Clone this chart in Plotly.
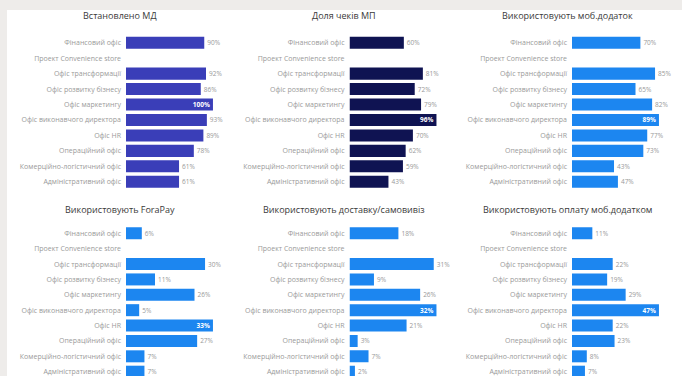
import plotly.graph_objects as go

W, H = 682, 376

categories = [
    "Фінансовий офіс",
    "Проект Convenience store",
    "Офіс трансформації",
    "Офіс розвитку бізнесу",
    "Офіс маркетингу",
    "Офіс виконавчого директора",
    "Офіс HR",
    "Операційний офіс",
    "Комерційно-логістичний офіс",
    "Адміністративний офіс",
]

titles = [
    "Встановлено МД",
    "Доля чеків МП",
    "Використовують моб.додаток",
    "Використовують ForaPay",
    "Використовують доставку/самовивіз",
    "Використовують оплату моб.додатком",
]

installed_md = [90, None, 92, 86, 100, 93, 89, 78, 61, 61]
mp_check_share = [60, None, 81, 72, 79, 96, 70, 62, 59, 43]
mob_app_users = [70, None, 85, 65, 82, 89, 77, 73, 43, 47]
forapay_users = [6, None, 30, 11, 26, 5, 33, 27, 7, 7]
delivery_users = [18, None, 31, 9, 26, 32, 21, 3, 7, 2]
mob_pay_users = [11, None, 22, 19, 29, 47, 22, 23, 8, 7]

series = [installed_md, mp_check_share, mob_app_users,
          forapay_users, delivery_users, mob_pay_users]
colors = ["#3a3eb8", "#0f1352", "#1c86f0", "#1c86f0", "#1c86f0", "#1c86f0"]

col_start_px = [126, 349.5, 572]
dom_w_px = 100
row_dom = [(0.496, 0.907), (0.0, 0.400)]
row_ranges = [[9.5, -0.5], [9.28, -0.5]]
title_y = [1 - 16 / H, 1 - 209 / H]
title_x_px = [120, 344, 567]

fig = go.Figure()
font_fam = "Open Sans"

for i, vals in enumerate(series):
    r, c = divmod(i, 3)
    ax = "" if i == 0 else str(i + 1)
    vmax = max(v for v in vals if v is not None)
    positions = ["inside" if v == vmax else "outside" for v in vals]
    fig.add_trace(go.Bar(
        x=vals, y=categories, orientation="h",
        marker=dict(color=colors[i], line=dict(width=0)),
        width=0.78,
        text=[f"{v}%" if v is not None else "" for v in vals],
        textposition=positions,
        insidetextanchor="end",
        constraintext="none",
        insidetextfont=dict(color="white", size=6.5, family=font_fam, weight="bold"),
        outsidetextfont=dict(color="#999999", size=6.5, family=font_fam),
        textangle=0,
        cliponaxis=False,
        hoverinfo="skip",
        xaxis="x" + ax, yaxis="y" + ax,
        showlegend=False,
    ))
    x0 = col_start_px[c] / W
    x1 = (col_start_px[c] + dom_w_px) / W
    fig.update_layout(**{
        "xaxis" + ax: dict(domain=[x0, x1], range=[0, vmax * 1.15],
                           visible=False, fixedrange=True, anchor="y" + ax),
        "yaxis" + ax: dict(domain=list(row_dom[r]), type="category",
                           categoryorder="array", categoryarray=categories,
                           range=row_ranges[r], anchor="x" + ax,
                           showgrid=False, zeroline=False, showline=False,
                           fixedrange=True,
                           ticks="", ticklabelstandoff=4,
                           tickfont=dict(size=7, color="#9a9a9a", family=font_fam)),
    })
    fig.add_annotation(
        text=titles[i], x=title_x_px[c] / W, y=title_y[r],
        xref="paper", yref="paper", xanchor="center", yanchor="middle",
        showarrow=False, font=dict(size=9, color="#3a3a3a", family=font_fam),
    )

fig.add_shape(type="rect", xref="paper", yref="paper",
              x0=7 / W, x1=1.0, y0=0, y1=1 - 10 / H,
              fillcolor="white", line=dict(width=0), layer="below")

fig.update_layout(
    width=W, height=H,
    margin=dict(l=0, r=0, t=0, b=0),
    paper_bgcolor="#eeecea",
    plot_bgcolor="rgba(0,0,0,0)",
)

fig.write_html(
    "out.html",
    config={"displayModeBar": False},
    post_script="document.body.style.margin='0px';document.body.style.overflow='hidden';",
)
